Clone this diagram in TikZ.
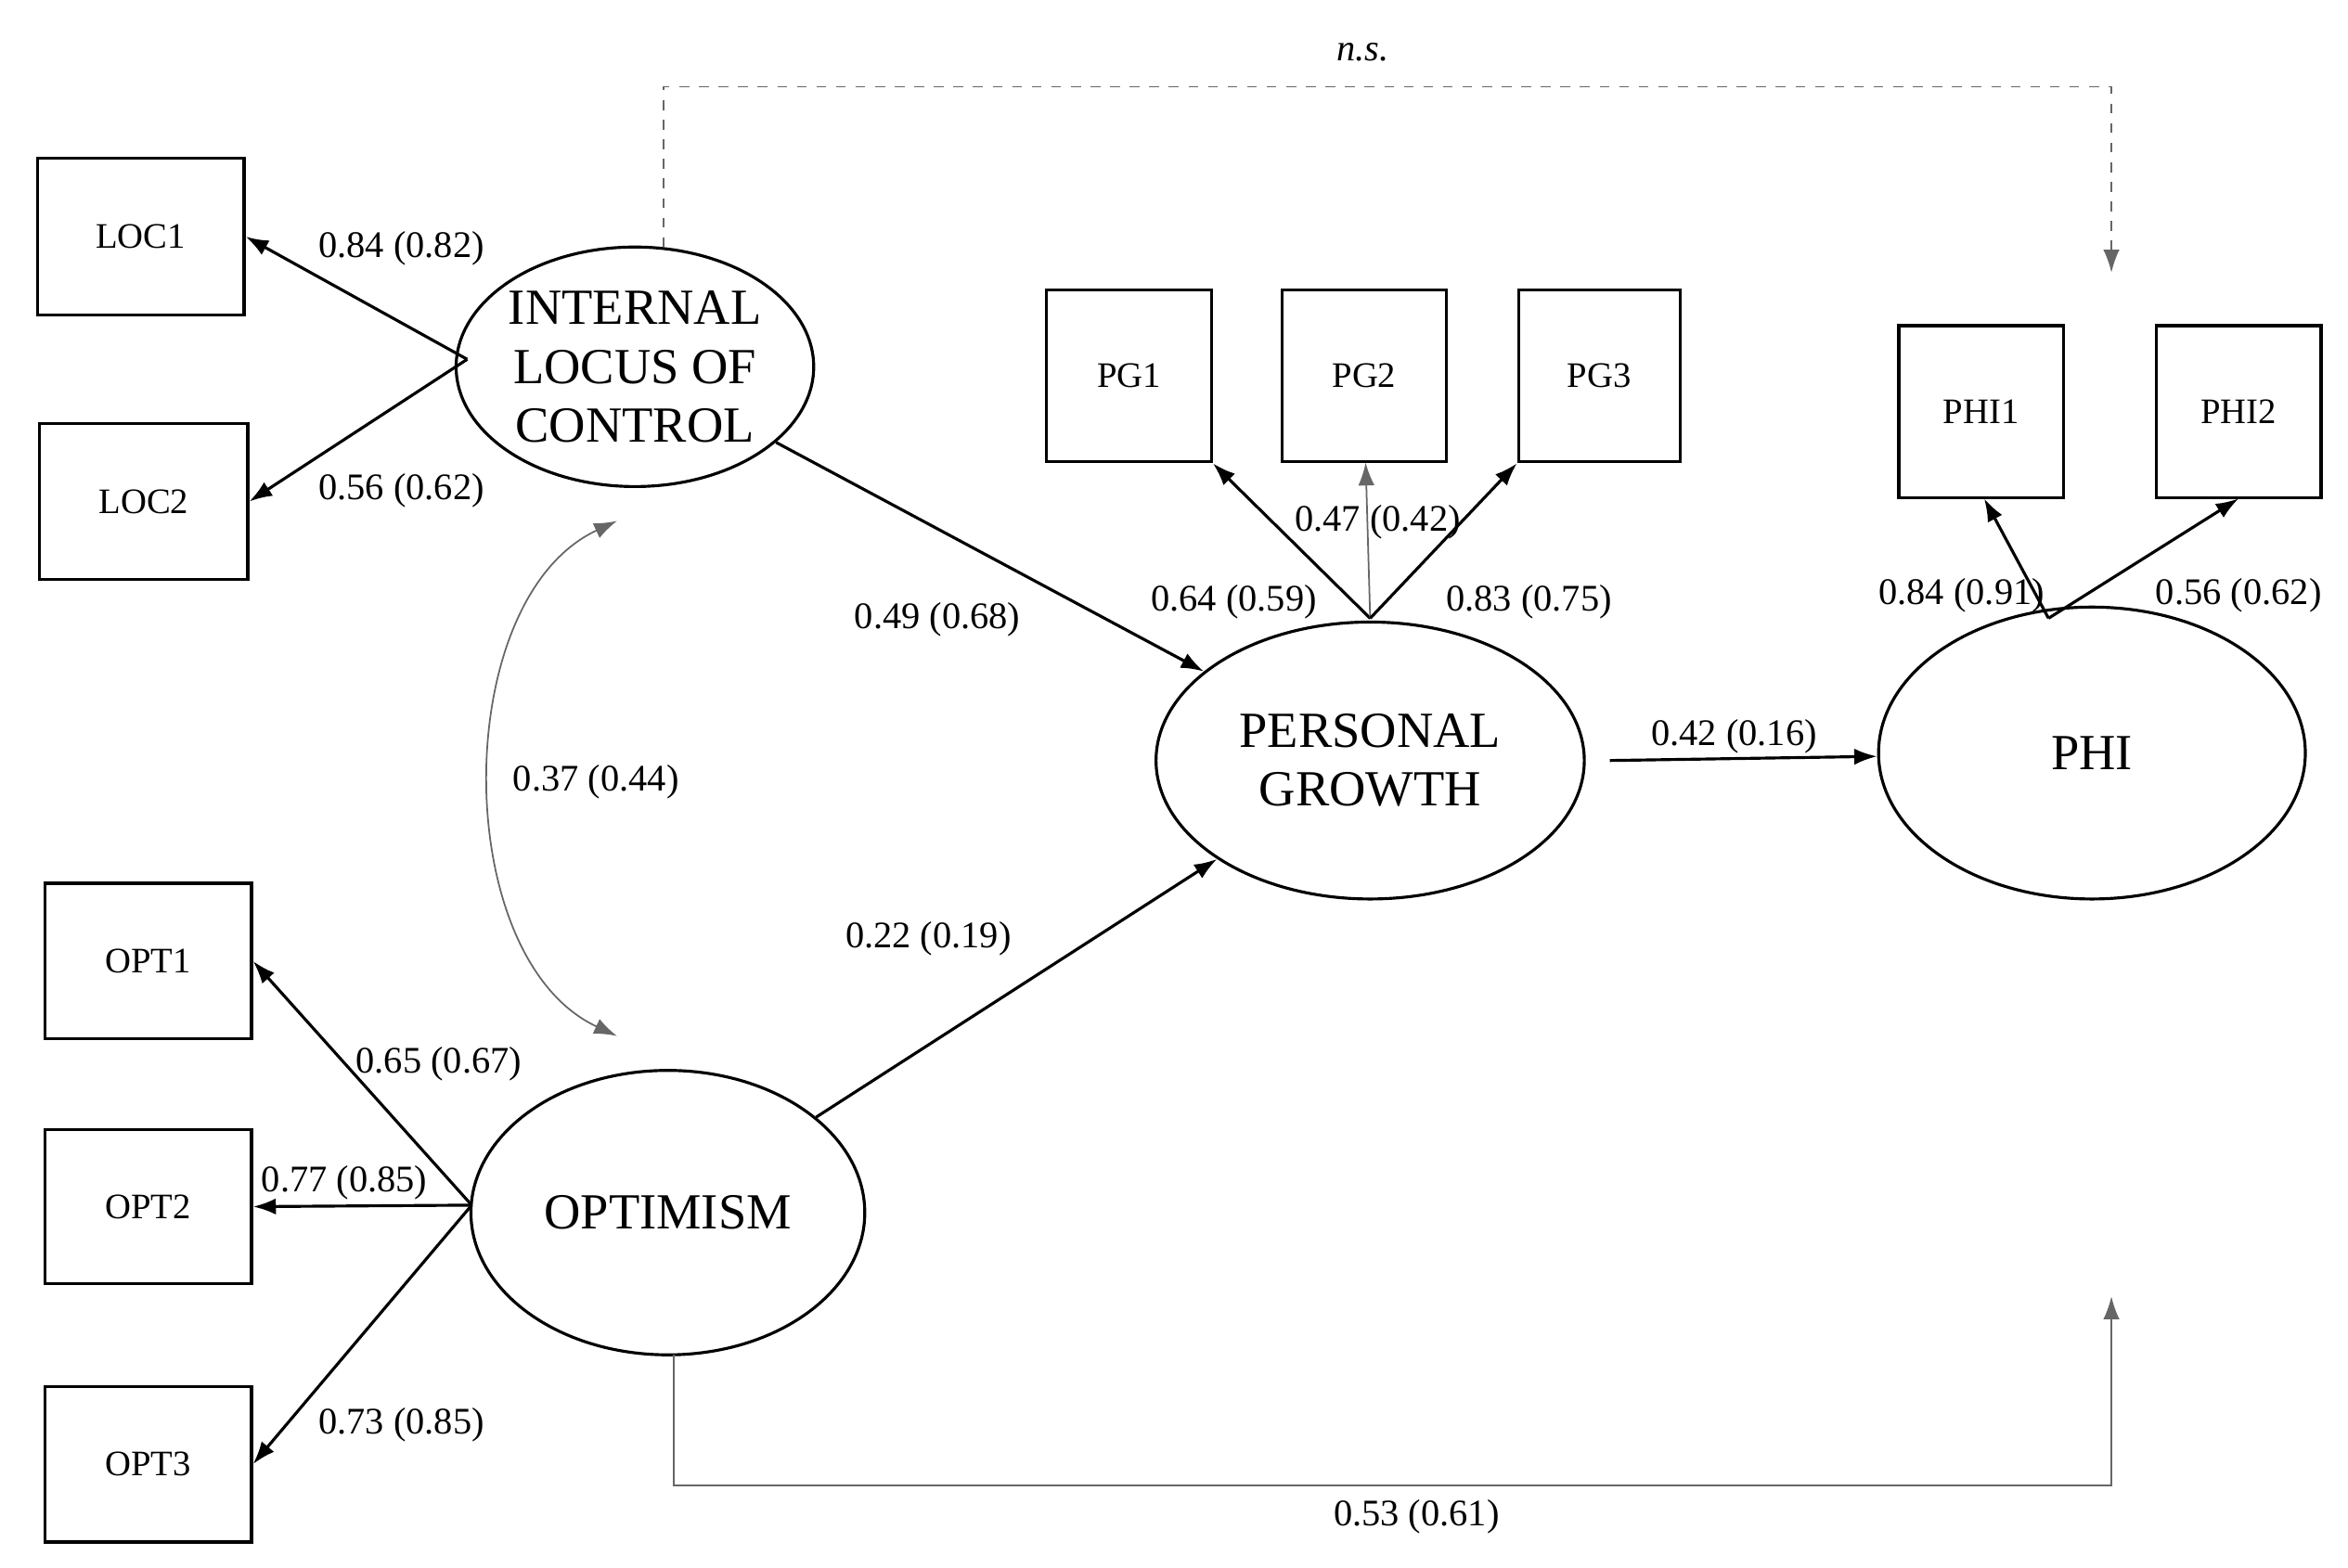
\documentclass[tikz,border=0pt]{standalone}
\usepackage{fontspec}
\setmainfont{Liberation Serif}
\usetikzlibrary{arrows.meta,shapes.geometric}
\begin{document}
\begin{tikzpicture}[x=0.016135cm,y=-0.016135cm,
  obs/.style={draw,line width=0.9pt,inner sep=0pt,font=\fontsize{11}{13}\selectfont},
  lat/.style={draw,line width=0.9pt,ellipse,inner sep=0pt,font=\fontsize{15.5}{18}\selectfont,align=center},
  arr/.style={-{Latex[length=7pt,width=5pt]},line width=0.9pt},
  garr/.style={-{Latex[length=7pt,width=5pt]},line width=0.5pt,gray!80!black},
  lab/.style={font=\fontsize{11.5}{13}\selectfont}]
\useasboundingbox (0,0) rectangle (1568,1047);
% observed
\node[obs,minimum width=138*0.016135cm,minimum height=105*0.016135cm] (loc1) at (94,158) {LOC1};
\node[obs,minimum width=139*0.016135cm,minimum height=104*0.016135cm] (loc2) at (96,335) {LOC2};
\node[obs,minimum width=110*0.016135cm,minimum height=115*0.016135cm] (pg1) at (754,251) {PG1};
\node[obs,minimum width=110*0.016135cm,minimum height=115*0.016135cm] (pg2) at (911,251) {PG2};
\node[obs,minimum width=108*0.016135cm,minimum height=115*0.016135cm] (pg3) at (1068,251) {PG3};
\node[obs,minimum width=110*0.016135cm,minimum height=115*0.016135cm] (phi1) at (1323,275) {PHI1};
\node[obs,minimum width=110*0.016135cm,minimum height=115*0.016135cm] (phi2) at (1495,275) {PHI2};
\node[obs,minimum width=138*0.016135cm,minimum height=104*0.016135cm] (opt1) at (99,642) {OPT1};
\node[obs,minimum width=138*0.016135cm,minimum height=103*0.016135cm] (opt2) at (99,806) {OPT2};
\node[obs,minimum width=138*0.016135cm,minimum height=104*0.016135cm] (opt3) at (99,978) {OPT3};
% latent
\node[lat,minimum width=224*0.016135cm,minimum height=160*0.016135cm] (ilc) at (424,245) {INTERNAL\\LOCUS OF\\CONTROL};
\node[lat,minimum width=286*0.016135cm,minimum height=185*0.016135cm] (pg) at (915,508) {PERSONAL\\GROWTH};
\node[lat,minimum width=285*0.016135cm,minimum height=195*0.016135cm] (phi) at (1397,503) {PHI};
\node[lat,minimum width=263*0.016135cm,minimum height=190*0.016135cm] (opt) at (446,810) {OPTIMISM};
% coordinates
\coordinate (ilcL) at (312,240);
\coordinate (pgT) at (915,413);
\coordinate (phiT) at (1368,413);
\coordinate (optL) at (315,805);
\coordinate (dash1) at (443,165);
\coordinate (dashEnd) at (1410,182);
\coordinate (bot1) at (450,905);
\coordinate (botEnd) at (1410,866);
% arrows
\draw[arr] (ilcL) -- (loc1.east);
\draw[arr] (ilcL) -- (loc2.east);
\draw[arr] (ilc) -- (pg);
\draw[arr] (opt) -- (pg);
\draw[arr] (pgT) -- (pg1.south east);
\draw[garr] (pgT) -- (912,309);
\draw[arr] (pgT) -- (pg3.south west);
\draw[arr] (1075,508) -- (phi);
\draw[arr] (phiT) -- (1325,333);
\draw[arr] (phiT) -- (1495,333);
\draw[arr] (optL) -- (opt1.east);
\draw[arr] (optL) -- (opt2.east);
\draw[arr] (optL) -- (opt3.east);
\draw[garr,dashed] (dash1) -- (443,58) -- (1410,58) -- (dashEnd);
\draw[garr] (bot1) -- (450,992) -- (1410,992) -- (botEnd);
\draw[{Latex[length=7pt,width=5pt]}-{Latex[length=7pt,width=5pt]},line width=0.5pt,gray!80!black] (412,348) .. controls (300,400) and (300,640) .. (412,692);
% labels
\node[lab] at (268,166) {0.84 (0.82)};
\node[lab] at (268,328) {0.56 (0.62)};
\node[lab] at (626,414) {0.49 (0.68)};
\node[lab] at (620,627) {0.22 (0.19)};
\node[lab] at (398,522) {0.37 (0.44)};
\node[lab] at (824,402) {0.64 (0.59)};
\node[lab] at (920,349) {0.47 (0.42)};
\node[lab] at (1021,402) {0.83 (0.75)};
\node[lab] at (1158,492) {0.42 (0.16)};
\node[lab] at (1310,398) {0.84 (0.91)};
\node[lab] at (1495,398) {0.56 (0.62)};
\node[lab] at (293,711) {0.65 (0.67)};
\node[lab] at (230,790) {0.77 (0.85)};
\node[lab] at (268,952) {0.73 (0.85)};
\node[lab] at (946,1013) {0.53 (0.61)};
\node[lab,font=\fontsize{11.5}{13}\selectfont\itshape] at (910,35) {n.s.};
\end{tikzpicture}
\end{document}
